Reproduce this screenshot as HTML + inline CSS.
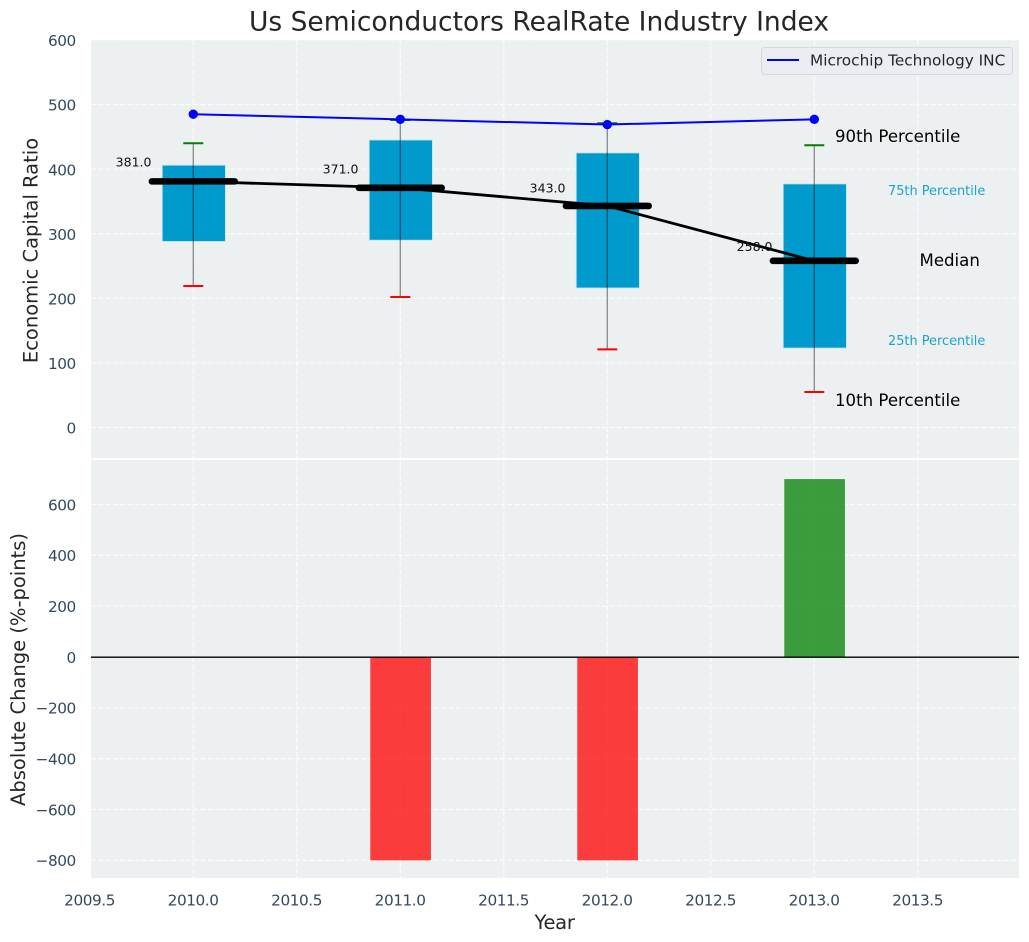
<!DOCTYPE html>
<html>
<head>
<meta charset="utf-8">
<title>Us Semiconductors RealRate Industry Index</title>
<style>
html,body{margin:0;padding:0;background:#fff;width:1029px;height:942px;overflow:hidden}
svg{display:block}
text{font-family:"DejaVu Sans","Liberation Sans",sans-serif}
</style>
</head>
<body>
<svg id="chart" xmlns="http://www.w3.org/2000/svg" width="1029" height="942" viewBox="0 0 1029 942">
  <rect x="0" y="0" width="1029" height="942" fill="#ffffff"/>
  <text x="539" y="30.5" font-size="26.5" fill="#262626" text-anchor="middle">Us Semiconductors RealRate Industry Index</text>
  <rect x="91" y="40" width="928" height="418" fill="#ecf0f1"/>
  <rect x="91" y="460" width="928" height="418" fill="#ecf0f1"/>
  <g id="grid"></g>
  <g id="bars"></g>
  <line x1="91" x2="1019" y1="657.2" y2="657.2" stroke="#000" stroke-width="1.4"/>
  <g id="boxes"></g>
  <g id="medianLine"></g>
  <g id="company"></g>
  <g id="ticks"></g>
  <text transform="translate(37.5,250.5) rotate(-90)" font-size="19.5" fill="#262626" text-anchor="middle">Economic Capital Ratio</text>
  <text transform="translate(25,669.5) rotate(-90)" font-size="19.5" fill="#262626" text-anchor="middle">Absolute Change (%-points)</text>
  <text x="554.5" y="929" font-size="19.5" fill="#262626" text-anchor="middle" letter-spacing="-0.3">Year</text>
  <text x="835" y="142" font-size="16.6" fill="#000">90th Percentile</text>
  <text x="888" y="195" font-size="12.9" fill="#1ba3d0">75th Percentile</text>
  <text x="919.5" y="266" font-size="16.6" fill="#000">Median</text>
  <text x="888" y="345" font-size="12.9" fill="#1ba3d0">25th Percentile</text>
  <text x="835" y="406" font-size="16.6" fill="#000">10th Percentile</text>
  <g>
    <rect x="761.5" y="47.5" width="251" height="27" rx="3" fill="#ebedf2" stroke="#d6d8dc" stroke-width="1"/>
    <line x1="767" x2="799" y1="60" y2="60" stroke="#0000ff" stroke-width="2"/>
    <text x="810" y="65.5" font-size="15.3" fill="#262626">Microchip Technology INC</text>
  </g>
</svg>
<script>
const years = [2010, 2011, 2012, 2013];
const p10 = [219, 202, 121, 55];
const p25 = [288, 290, 216, 123];
const medians = [381, 371, 343, 258];
const p75 = [406, 445, 425, 377];
const p90 = [440, 476, 471, 437];
const companyValues = [485, 477, 469, 477];
const changes = [0, -800, -800, 700];
const xTicks = [2009.5, 2010, 2010.5, 2011, 2011.5, 2012, 2012.5, 2013, 2013.5];
const topYTicks = [0, 100, 200, 300, 400, 500, 600];
const bottomYTicks = [-800, -600, -400, -200, 0, 200, 400, 600];

const NS = 'http://www.w3.org/2000/svg';
const xScale = v => 193.3 + (v - 2010) * 207;
const yTop = v => 427.5 - v * 0.646;
const yBottom = v => 657 - v * 0.2542;
const PLOT_L = 91, PLOT_R = 1019;

function mk(parent, tag, attrs, txt) {
  const el = document.createElementNS(NS, tag);
  for (const k in attrs) el.setAttribute(k, attrs[k]);
  if (txt !== undefined) el.textContent = txt;
  parent.appendChild(el);
  return el;
}
const grid = document.getElementById('grid');
const bars = document.getElementById('bars');
const boxes = document.getElementById('boxes');
const medianG = document.getElementById('medianLine');
const company = document.getElementById('company');
const ticks = document.getElementById('ticks');
const gridStyle = {stroke: '#ffffff', 'stroke-width': 1.3, 'stroke-dasharray': '5.1 2.2', opacity: 0.75};
const tickStyle = {'font-size': 15.3, 'letter-spacing': -0.45, fill: '#34495e'};

xTicks.forEach(t => {
  const x = xScale(t);
  if (x < PLOT_L) return;
  [[40, 458], [460, 878]].forEach(r => {
    const l = mk(grid, 'line', Object.assign({x1: x, x2: x, y1: r[0], y2: r[1]}, gridStyle));
    
    
  });
});
xTicks.forEach(t => {
  const lbl = mk(ticks, 'text', Object.assign({x: xScale(t) - 0.2, y: 905.5, 'text-anchor': 'middle'}, tickStyle), t.toFixed(1));
  
  
});
topYTicks.forEach(t => {
  const l = mk(grid, 'line', Object.assign({x1: PLOT_L, x2: PLOT_R, y1: yTop(t), y2: yTop(t)}, gridStyle));
  
  
  const lbl = mk(ticks, 'text', Object.assign({x: 75.8, y: yTop(t) + 6.2, 'text-anchor': 'end'}, tickStyle), String(t));
  
  
});
bottomYTicks.forEach(t => {
  const l = mk(grid, 'line', Object.assign({x1: PLOT_L, x2: PLOT_R, y1: yBottom(t), y2: yBottom(t)}, gridStyle));
  
  
  const lbl = mk(ticks, 'text', Object.assign({x: 75.8, y: yBottom(t) + 5.8, 'text-anchor': 'end'}, tickStyle), String(t).replace('-', '\u2212'));
  
  
});

years.forEach((yr, i) => {
  const v = changes[i];
  if (v === 0) return;
  const x0 = xScale(yr - 0.145), x1 = xScale(yr + 0.148);
  const y0 = Math.min(yBottom(0), yBottom(v)), y1 = Math.max(yBottom(0), yBottom(v));
  const b = mk(bars, 'rect', {x: x0, y: y0, width: x1 - x0, height: y1 - y0, fill: v < 0 ? '#ff0000' : '#008000', 'fill-opacity': 0.75});
  
  
});

years.forEach((yr, i) => {
  const x0 = xScale(yr - 0.15), x1 = xScale(yr + 0.155);
  const b = mk(boxes, 'rect', {x: x0, y: yTop(p75[i]), width: x1 - x0, height: yTop(p25[i]) - yTop(p75[i]), fill: '#009bcc', stroke: '#bfe3ef', 'stroke-width': 0.8});
  
  
});

const medianPts = years.map((yr, i) => xScale(yr) + ',' + yTop(medians[i])).join(' ');
const trend = mk(medianG, 'polyline', {points: medianPts, fill: 'none', stroke: '#000', 'stroke-width': 2.8});



years.forEach((yr, i) => {
  const x = xScale(yr);
  const w = mk(boxes, 'line', {x1: x, x2: x, y1: yTop(p90[i]), y2: yTop(p10[i]), stroke: '#000', 'stroke-opacity': 0.42, 'stroke-width': 1.4});
  
  
  const hi = mk(boxes, 'line', {x1: x - 10, x2: x + 10, y1: yTop(p90[i]), y2: yTop(p90[i]), stroke: '#008000', 'stroke-width': 2});
  
  
  const lo = mk(boxes, 'line', {x1: x - 10, x2: x + 10, y1: yTop(p10[i]), y2: yTop(p10[i]), stroke: '#ff0000', 'stroke-width': 2});
  
  
  const m = mk(medianG, 'line', {x1: xScale(yr - 0.2), x2: xScale(yr + 0.2), y1: yTop(medians[i]), y2: yTop(medians[i]), stroke: '#000', 'stroke-width': 6.6, 'stroke-linecap': 'round'});
  
  
  const labelLift = 10 + 0.04 * (medians[i] - 258);
  const t = mk(medianG, 'text', {x: xScale(yr - 0.375), y: yTop(medians[i]) - labelLift, 'font-size': 12.5, fill: '#111'}, medians[i].toFixed(1));
  
  
});

const companyPts = years.map((yr, i) => xScale(yr) + ',' + yTop(companyValues[i])).join(' ');
const cl = mk(company, 'polyline', {points: companyPts, fill: 'none', stroke: '#0000ff', 'stroke-width': 2});


years.forEach((yr, i) => {
  const c = mk(company, 'circle', {cx: xScale(yr), cy: yTop(companyValues[i]), r: 4.7, fill: '#0000ff'});
  
  
});
</script>
</body>
</html>
